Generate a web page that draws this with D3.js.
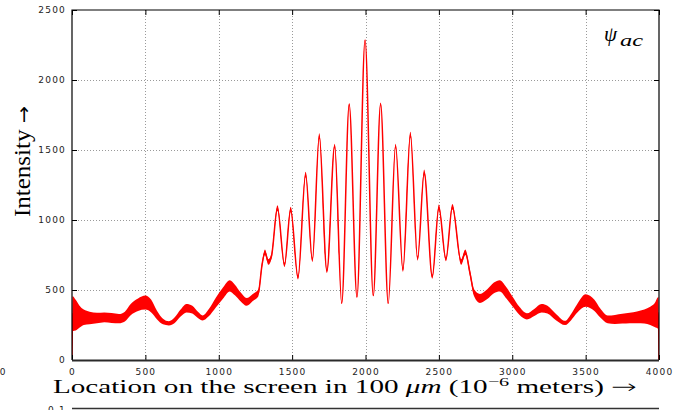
<!DOCTYPE html>
<html>
<head>
<meta charset="utf-8">
<script src="https://cdn.jsdelivr.net/npm/d3@7"></script>
<style>
  html, body { margin: 0; padding: 0; background: #fff; }
  svg { display: block; }
</style>
</head>
<body>
<svg id="chart" width="693" height="410"></svg>
<script>
// Screen location (units of the x axis), measured intensity (band centre)
// and half-width of the noise band around it.
const screenLocation = [
  0, 4, 25, 50, 80, 120, 170, 220, 270, 320, 360, 400, 450, 500, 540, 580, 620, 660, 700, 740,
  780, 820, 860, 890, 930, 980, 1030, 1075, 1110, 1150, 1190, 1230, 1270, 1295, 1315, 1338, 1360,
  1400, 1448, 1490, 1540, 1592, 1638, 1685, 1737, 1790, 1838, 1889, 1942, 1997, 2053, 2103, 2155,
  2205, 2255, 2306, 2355, 2400, 2455, 2500, 2548, 2592, 2652, 2680, 2712, 2740, 2780, 2830, 2875,
  2915, 2960, 3000, 3050, 3100, 3150, 3200, 3240, 3300, 3360, 3400, 3440, 3500, 3560, 3600, 3650,
  3700, 3750, 3800, 3850, 3900, 3940, 3970, 3996, 4000
];
const intensity = [
  0, 330, 320, 310, 305, 300, 300, 305, 300, 295, 310, 360, 395, 410, 385, 320, 275, 262, 285, 335,
  370, 360, 320, 300, 335, 410, 480, 530, 500, 450, 415, 445, 480, 680, 770, 700, 745,
  1085, 680, 1075, 590, 1325, 715, 1600, 635, 1530, 405, 1825, 450, 2285, 460, 1830, 405,
  1530, 645, 1610, 725, 1340, 595, 1090, 720, 1095, 700, 770, 620, 480, 440, 470, 515,
  530, 480, 420, 350, 312, 340, 370, 360, 305, 265, 305, 365, 425, 390, 335, 290,
  290, 295, 300, 305, 310, 315, 320, 335, 0
];
const noiseSpread = [
  0, 125, 110, 80, 55, 45, 38, 35, 35, 33, 35, 40, 45, 50, 45, 30, 20, 15, 20, 25,
  30, 28, 22, 18, 25, 35, 40, 40, 38, 32, 28, 25, 25, 20, 20, 20, 20,
  20, 15, 20, 15, 20, 15, 20, 15, 15, 5, 10, 5, 5, 5, 10, 5,
  15, 15, 20, 15, 20, 15, 20, 15, 20, 20, 20, 22, 25, 32, 35, 38,
  40, 40, 35, 28, 22, 25, 30, 28, 22, 15, 22, 30, 45, 40, 32, 28,
  32, 35, 38, 42, 50, 65, 85, 115, 0
];

const xTicks = [0, 500, 1000, 1500, 2000, 2500, 3000, 3500, 4000];
const yTicks = [0, 500, 1000, 1500, 2000, 2500];
const xGridLines = [500, 1000, 1500, 2000, 2500, 3000, 3500];
const yGridLines = [500, 1000, 1500, 2000];

(function draw() {
  const svg = d3.select("#chart");
  const pLeft = 72, pRight = 659, pTop = 10, pBottom = 360;
  const serif = "Liberation Serif, DejaVu Serif, serif";

  const x = d3.scaleLinear().domain([0, 4000]).range([pLeft, pRight]);
  const y = d3.scaleLinear().domain([0, 2500]).range([pBottom, pTop]);

  const points = screenLocation.map((loc, i) => ({ loc, v: intensity[i], s: noiseSpread[i] }));

  // dotted grid
  const grid = svg.append("g").attr("stroke", "#9a9a9a").attr("stroke-width", 1)
    .attr("stroke-dasharray", "1,2");
  grid.selectAll("line.v").data(xGridLines).join("line").attr("class", "v")
    .attr("x1", d => Math.round(x(d)) + 0.5).attr("x2", d => Math.round(x(d)) + 0.5)
    .attr("y1", pTop).attr("y2", pBottom);
  grid.selectAll("line.h").data(yGridLines).join("line").attr("class", "h")
    .attr("y1", d => Math.round(y(d)) + 0.5).attr("y2", d => Math.round(y(d)) + 0.5)
    .attr("x1", pLeft).attr("x2", pRight);

  // clip for the trace
  svg.append("clipPath").attr("id", "plotClip").append("rect")
    .attr("x", pLeft).attr("y", pTop).attr("width", pRight - pLeft).attr("height", pBottom - pTop);

  const trace = svg.append("g").attr("clip-path", "url(#plotClip)");

  const band = d3.area()
    .x(d => x(d.loc))
    .y0(d => y(Math.max(0, d.v - d.s)))
    .y1(d => y(d.v + d.s))
    .curve(d3.curveMonotoneX);

  const centre = d3.line()
    .x(d => x(d.loc))
    .y(d => y(d.v))
    .curve(d3.curveMonotoneX);

  trace.append("path").datum(points).attr("d", band).attr("fill", "#ff0000");
  trace.append("path").datum(points).attr("d", centre)
    .attr("fill", "none").attr("stroke", "#ff0000").attr("stroke-width", 1.5);

  // axes with inward ticks
  function styleAxis(g) {
    g.select(".domain").remove();
    g.selectAll(".tick line").attr("stroke", "#000").attr("stroke-width", 1);
    g.selectAll(".tick text")
      .attr("font-family", "DejaVu Sans, sans-serif")
      .attr("font-size", 9)
      .attr("letter-spacing", "1.2px")
      .attr("fill", "#222");
  }

  svg.append("g").attr("transform", `translate(0,${pBottom})`)
    .call(d3.axisBottom(x).tickValues(xTicks).tickSize(-5).tickPadding(9).tickFormat(d3.format("d")))
    .call(styleAxis);
  svg.append("g").attr("transform", `translate(${pLeft},0)`)
    .call(d3.axisLeft(y).tickValues(yTicks).tickSize(-5).tickPadding(6).tickFormat(d3.format("d")))
    .call(styleAxis);
  svg.append("g").attr("transform", `translate(0,${pTop})`)
    .call(d3.axisTop(x).tickValues(xTicks).tickSize(-5).tickFormat(""))
    .call(styleAxis);
  svg.append("g").attr("transform", `translate(${pRight},0)`)
    .call(d3.axisRight(y).tickValues(yTicks).tickSize(-5).tickFormat(""))
    .call(styleAxis);

  // frame
  svg.append("path")
    .attr("d", `M${pLeft},${pBottom}V${pTop}H${pRight}V${pBottom}`)
    .attr("fill", "none").attr("stroke", "#000").attr("stroke-width", 1.2);
  svg.append("line").attr("x1", pLeft).attr("x2", pRight).attr("y1", pBottom + 0.5).attr("y2", pBottom + 0.5)
    .attr("stroke", "#2a2a2a").attr("stroke-width", 2);

  // series label ψ with subscript
  svg.append("text").attr("x", 604).attr("y", 41)
    .attr("font-family", serif).attr("font-style", "italic").attr("font-size", 21).attr("fill", "#000")
    .text("ψ");
  svg.append("text").attr("x", 620).attr("y", 46)
    .attr("font-family", serif).attr("font-style", "italic").attr("font-size", 16).attr("fill", "#000")
    .attr("textLength", 23).attr("lengthAdjust", "spacingAndGlyphs")
    .text("ac");

  // x axis title, stretched to its span
  const xTitleG = svg.append("g");
  const xTitle = xTitleG.append("text").attr("x", 0).attr("y", 0)
    .attr("font-family", serif).attr("font-size", 18).attr("fill", "#000");
  xTitle.append("tspan").text("Location on the screen in 100 ");
  xTitle.append("tspan").attr("font-style", "italic").text("μm");
  xTitle.append("tspan").text(" (10");
  xTitle.append("tspan").attr("font-size", 12.5).attr("dy", -7).text("−6");
  xTitle.append("tspan").attr("dy", 7).text(" meters) ");
  xTitle.append("tspan").attr("font-family", "DejaVu Sans, sans-serif").attr("font-weight", 300)
    .attr("font-size", 19).text("→");
  const xw = xTitle.node().getBBox().width;
  xTitleG.attr("transform", `translate(53,393) scale(${584 / xw},1)`);

  // y axis title, rotated
  const yTitleG = svg.append("g");
  const yTitle = yTitleG.append("text").attr("x", 0).attr("y", 0)
    .attr("font-family", serif).attr("font-size", 23).attr("fill", "#000");
  yTitle.append("tspan").text("Intensity ");
  yTitle.append("tspan").attr("font-family", "DejaVu Sans, sans-serif").attr("font-size", 19).text("→");
  const yw = yTitle.node().getBBox().width;
  yTitleG.attr("transform", `translate(30,217) rotate(-90) scale(${111 / yw},1)`);

  // neighbouring panel remnants at the edges
  svg.append("text").attr("x", 5.5).attr("y", 375).attr("text-anchor", "end")
    .attr("font-family", "DejaVu Sans, sans-serif").attr("font-size", 9).attr("fill", "#222").text("0");
  svg.append("text").attr("x", 66).attr("y", 413).attr("text-anchor", "end")
    .attr("font-family", "DejaVu Sans, sans-serif").attr("font-size", 9).attr("letter-spacing", "1.2px")
    .attr("fill", "#222").text("0.1");
  svg.append("line").attr("x1", pLeft).attr("x2", pRight).attr("y1", 408.5).attr("y2", 408.5)
    .attr("stroke", "#333").attr("stroke-width", 1.5);
})();
</script>
</body>
</html>
